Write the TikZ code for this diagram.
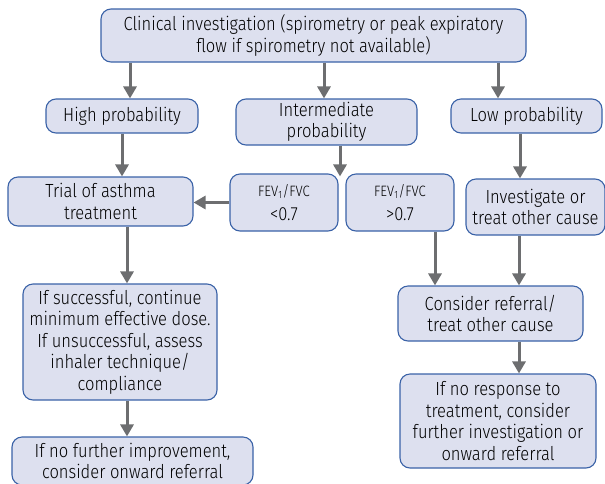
\documentclass[tikz,border=0pt]{standalone}
\usepackage{fontspec}
\setmainfont{Fira Sans}[FakeStretch=0.87, UprightFont=* Light]
\usetikzlibrary{arrows.meta,calc}
\definecolor{boxfill}{RGB}{221,224,239}
\definecolor{boxline}{RGB}{58,98,167}
\definecolor{arrgray}{RGB}{109,110,112}
\tikzset{
  fbox/.style={draw=boxline, line width=1.1pt, fill=boxfill, rounded corners=10pt,
    inner sep=0pt, align=center, font=\fontsize{19}{21.5}\selectfont},
  arr/.style={draw=arrgray, line width=3pt, -{Triangle[width=13pt,length=12pt]}}
}
\newcommand{\fevtext}{{\fontsize{15}{16}\selectfont FEV\textsubscript{1}/FVC}}
\begin{document}
\begin{tikzpicture}[x=1pt,y=-1pt]
\useasboundingbox (0,0) rectangle (605,483);
\node[fbox, minimum width=425pt, minimum height=53pt] (top) at (313.5,35.5)
  {Clinical investigation (spirometry or peak expiratory\\flow if spirometry not available)};
\node[fbox, minimum width=152pt, minimum height=34pt] (high) at (122,116) {High probability};
\node[fbox, minimum width=181pt, minimum height=46pt] (interm) at (326.5,122) {Intermediate\\probability};
\node[fbox, minimum width=151pt, minimum height=34pt] (low) at (526.5,116) {Low probability};
\node[fbox, minimum width=185pt, minimum height=49pt] (trial) at (100.5,201.5) {Trial of asthma\\treatment};
\node[fbox, minimum width=108pt, minimum height=57pt] (fevlo) at (284,202.5)
  {\fevtext\\[2pt]<0.7};
\node[fbox, minimum width=108pt, minimum height=57pt] (fevhi) at (400,202.5)
  {\fevtext\\[2pt]>0.7};
\node[fbox, minimum width=139pt, minimum height=56pt] (invest) at (535.5,207) {Investigate or\\treat other cause};
\node[fbox, minimum width=194pt, minimum height=116pt] (succ) at (120,342)
  {If successful, continue\\minimum effective dose.\\If unsuccessful, assess\\inhaler technique/\\compliance};
\node[fbox, minimum width=185pt, minimum height=55pt] (consider) at (490.5,313.5) {Consider referral/\\treat other cause};
\node[fbox, minimum width=196pt, minimum height=94pt] (noresp) at (498,421)
  {If no response to\\treatment, consider\\further investigation or\\onward referral};
\node[fbox, minimum width=241pt, minimum height=48pt] (nofurther) at (132.5,461)
  {If no further improvement,\\consider onward referral};
% arrows
\draw[arr] ([xshift=8pt]high.north |- top.south) -- ([xshift=8pt]high.north);
\draw[arr] ([xshift=-2.5pt]interm.north |- top.south) -- ([xshift=-2.5pt]interm.north);
\draw[arr] ([xshift=-28.5pt]low.north |- top.south) -- ([xshift=-28.5pt]low.north);
\draw[arr] (high.south) -- (high.south |- trial.north);
\draw[arr] ([xshift=13.5pt]interm.south) -- ([xshift=13.5pt,yshift=-3pt]interm.south |- fevlo.north);
\draw[arr] ([xshift=-6.5pt]low.south) -- ([xshift=-6.5pt]low.south |- invest.north);
\draw[arr] (fevlo.west) -- (trial.east |- fevlo.west);
\draw[arr] ([xshift=7pt]succ.north |- trial.south) -- ([xshift=7pt]succ.north);
\draw[arr] ([xshift=35pt]fevhi.south) -- ([xshift=35pt]fevhi.south |- consider.north);
\draw[arr] ([xshift=-16.5pt]invest.south) -- ([xshift=-16.5pt]invest.south |- consider.north);
\draw[arr] ([xshift=28.5pt]consider.south) -- ([xshift=28.5pt]consider.south |- noresp.north);
\draw[arr] ([xshift=7pt]succ.south) -- ([xshift=7pt]succ.south |- nofurther.north);
\end{tikzpicture}
\end{document}
